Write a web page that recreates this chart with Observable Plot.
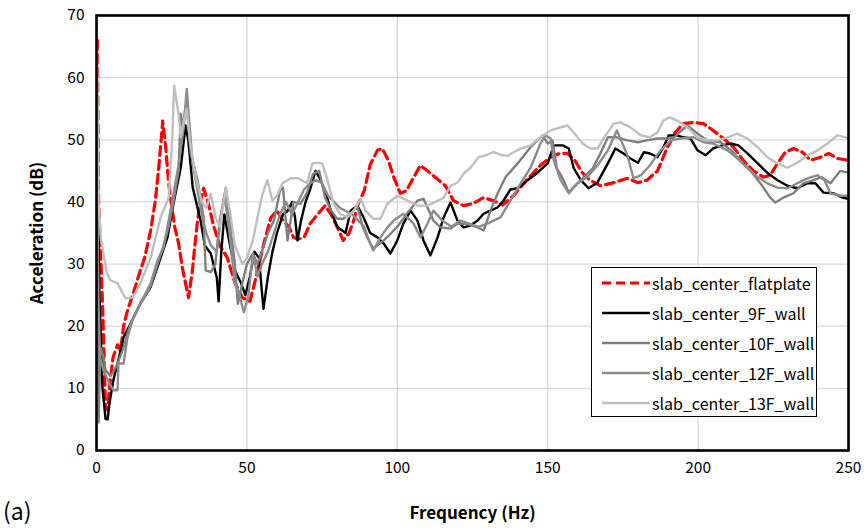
<!DOCTYPE html>
<html>
<head>
<meta charset="utf-8">
<script src="https://cdn.jsdelivr.net/npm/d3@7"></script>
<script src="https://cdn.jsdelivr.net/npm/@observablehq/plot@0.6"></script>
<style>
  html, body { margin: 0; padding: 0; background: #fff; }
  #wrap { position: relative; width: 867px; height: 529px; font-family: "Noto Sans CJK KR", "Noto Sans", sans-serif; }
  #wrap svg { font-family: "Noto Sans CJK KR", "Noto Sans", sans-serif; }
  [aria-label="x-axis label"] text, [aria-label="y-axis label"] text, [aria-label="x-axis label"], [aria-label="y-axis label"] { font-weight: bold; font-size: 17px; }
  #legend { position: absolute; left: 591px; top: 267px; width: 226px; height: 150px; border: 1.5px solid #000; background: #fff; box-sizing: border-box; padding-top: 0px; }
  .row { display: flex; align-items: center; height: 30px; font-size: 16px; color: #000; }
  .row svg { margin-left: 10px; margin-right: 2px; }
  #tag { position: absolute; left: 3px; top: 493px; font-size: 23px; font-family: "Noto Sans CJK KR", "Noto Sans", sans-serif; }
</style>
</head>
<body>
<div id="wrap"></div>
<script>
// Series names, colours (legend order)
const seriesNames = ["slab_center_flatplate", "slab_center_9F_wall", "slab_center_10F_wall", "slab_center_12F_wall", "slab_center_13F_wall"];
const seriesColors = ["#ff0000", "#000000", "#7f7f7f", "#8c8c8c", "#bfbfbf"];
const xTicks = [0, 50, 100, 150, 200, 250];
const yTicks = [0, 10, 20, 30, 40, 50, 60, 70];

// [frequency Hz, acceleration dB]
const flatplate = [[0.3,66],[0.7,40],[1.5,30],[2,23.7],[3,7],[3.7,6.5],[4.5,11],[5.5,15],[7,17],[8,16],[9,20],[10,22],[12,25],[14.6,29],[16,31],[18,35.4],[19.5,40],[20.6,45],[21.5,50],[22,53],[23,48.8],[24,43],[24.6,40.7],[26,36],[27.3,33.3],[28.5,29.5],[29.6,26.9],[30.6,24.6],[31.9,29],[32.7,33],[33.6,37],[34.5,40],[35.6,42.2],[37.2,39.7],[39,36],[41,33],[43.5,31],[46,27],[48.5,24.6],[51,24],[53,27.8],[54.5,31],[56,34],[58,37.5],[60,38.6],[62,37],[64,36],[65.5,34.3],[67,34],[69,34.3],[71,36.5],[73.5,38],[76,39.4],[78,38],[80,36],[82,33.8],[84,35],[85.5,37],[87,39.7],[89,41.8],[91,46],[93.4,48.3],[95,48.6],[97,46.7],[98.8,44],[101,41.4],[103,41.8],[105.5,44],[107.7,45.9],[110,45],[113,43.8],[116,42.6],[118.7,40.2],[122,39.4],[125,39.7],[128.7,40.7],[132,40.2],[135,39.5],[138.6,41],[143,43.5],[147.6,45.9],[151,47.2],[154,47.8],[156.6,47.8],[159,46.7],[161.5,44.7],[164,43.5],[167.5,42.6],[172,43.1],[176.5,43.8],[180,43.1],[183,43.5],[186.5,45],[189.8,48.8],[192.5,51.2],[195,52.6],[198.5,52.8],[201.8,52.6],[205,51.5],[208.5,50.2],[211.8,48.8],[215,46.7],[218.4,45],[221.7,44],[224,44.3],[226.4,46.2],[229,48],[231.8,48.6],[234.7,48],[237.4,46.7],[240.7,47.2],[243.4,47.8],[246.3,47],[250,46.7]];

const wall9F = [[0.3,44],[1,25],[2,10],[3,5.1],[3.7,5],[4.3,7.5],[5.6,11.3],[7,14],[9,18.2],[11.3,20.4],[14.6,23.7],[18,26.3],[21.3,31],[23.6,34.3],[25.6,39.7],[28,45.5],[29.6,52.3],[30.5,50],[32,42.3],[34.6,37],[36,33],[38,31.7],[40,27.8],[40.6,24],[41.5,32],[42.5,38],[44,34],[46,29],[48,27],[49.5,25],[51,28],[52.5,32],[54,31],[55.5,22.8],[57,28],[58.5,32],[60,35],[62,38],[63.5,38.5],[65,40],[66,37.5],[66.8,33.8],[68,37],[69.5,40],[71,42],[72.8,45],[74,44],[76,41.8],[78,38.5],[80,36],[82.8,35],[84.5,38.6],[86.7,39.4],[88.8,37.5],[91,35],[93.4,34.3],[95.5,33.3],[97.7,31.7],[100,33.8],[102,36.5],[104.4,38.6],[106.7,37],[108.7,33.8],[111,31.4],[113.4,34.3],[115.4,37.5],[117.7,39.9],[120,37],[122,35.9],[124.3,36.2],[126.7,37],[128.7,38.1],[131,38.6],[133.3,39.1],[135.3,40.2],[137.6,42],[140,42.2],[143.3,43.5],[146.6,44.7],[150,46.2],[152,49.1],[155,49.1],[157,48.6],[158.6,45.5],[161,43.5],[163.6,42.2],[166.5,43.1],[170,46.2],[172.5,48.6],[175.2,47.8],[177.5,47],[180,46.3],[182,48],[184,47.8],[186.5,47.2],[188.5,48.8],[190.2,50.7],[193,50.7],[195,50.4],[197.5,50.2],[199.8,48.3],[202.5,47.5],[205,48.6],[208,49.1],[210.8,49.4],[213.4,49.1],[216.4,47.8],[219.8,46.2],[223,44.7],[226.4,43.5],[229.7,42.6],[233,42.2],[236.4,43],[239,43],[241.7,41.5],[245,41.4],[248,40.7],[250,40.5]];

const wall10F = [[0.3,45],[0.7,4.5],[1.3,16.6],[2.3,15],[3,13],[4.6,12],[6,13],[7,14],[9,16.6],[11.3,20.4],[14.6,23.5],[18,26.5],[20.3,30],[22.3,33],[24,36],[25.6,40],[27.3,45],[28,54.2],[28.8,52],[29.6,55.5],[30.5,53],[31.3,47.8],[33.6,43.5],[35.6,37.5],[36.3,29],[38,28.7],[39.5,30],[41,37],[43,42.3],[44.5,36],[46,30],[47,23.6],[48.5,27],[50,30],[52,31.7],[53.5,30],[55,32],[57,35],[59,37],[61,41.8],[62,42.3],[63.5,33.8],[65.5,40],[67.8,39.7],[70,41.5],[72,44.5],[74,45],[76,40.7],[78,38.6],[80,37.3],[82,37.3],[84.5,38],[86.7,39.4],[88.5,36],[90,34.3],[92,32.5],[95.5,33.8],[98,35],[100,36],[103,38],[106.7,40.2],[108.7,40.5],[112,37],[114.4,35.9],[117.7,35.7],[120,36.5],[123,36.5],[126.7,35.9],[128.7,35.4],[131,38.6],[133.3,41.3],[136,44],[140,46.2],[144.3,48.8],[146.6,49.9],[148.3,50.7],[150,49.4],[151.6,49.9],[153,45.5],[155.3,43.5],[157,41.5],[159,42.6],[162,44],[165,45.4],[167.5,47.8],[170,50.4],[173,50.4],[176.5,49.9],[180,49.6],[183,49.9],[186.5,50.2],[189.8,50.2],[192,50.4],[194.5,51.5],[196.5,52.3],[199.8,51],[203,49.9],[207.5,49.6],[211,48.3],[214,46.7],[217.4,45],[220.7,43],[224,40.7],[225.7,39.9],[228.4,40.7],[231.7,41.4],[235,43],[238.4,43.5],[241,44],[244,43],[247.3,45],[250,44.7]];

const wall12F = [[0.3,42],[0.6,25],[1.2,15],[2.3,12.9],[4.6,10.5],[5.6,9.7],[7,9.7],[7.3,14],[9,14],[10.3,18.2],[12.3,21.4],[14.6,23.7],[18,26.9],[20.3,30.6],[22.3,32.7],[24,37],[25.6,41.3],[27.3,46],[29,52],[30,58.2],[31,52],[32,46],[33.5,42],[35,38],[36.5,35],[38,33],[40,32],[41.5,38],[42.5,41],[44,36],[46,27],[47.5,25],[49,22.2],[50.5,25],[52,31.7],[53.5,28],[55,30],[57,32],[59,35],[61,38],[63,40],[65,38],[67,40],[69,42],[71,43],[73,43.5],[75,43],[77,41],[79,40],[81,39],[83,38.5],[85,38],[87,37],[89,36],[91,33.3],[92,32.2],[94.4,34.3],[96.7,35.9],[98.8,37],[102,38.1],[105.4,36.5],[107.7,34.3],[110,36.5],[112,38.6],[115,37],[118,36],[121,37],[124,36.5],[127,36],[130,36.5],[132,37],[134.3,37.5],[137.6,40.2],[141,43],[144.3,45.5],[147.6,49.4],[149.3,50.7],[151,50.2],[152,46.7],[154.3,43.5],[157,41.4],[160,43],[163.2,44],[166.6,45.9],[170,48.3],[173,51.5],[176.5,47.5],[178.5,43.8],[181,44.3],[184,45.9],[187.5,48.3],[191,49.9],[194,50.2],[198.5,50.4],[201.8,49.6],[205,49.4],[209.8,48.3],[213,47],[216.4,45.5],[219.8,44],[223,43],[226.4,42.3],[229.7,42.2],[233,43],[236.4,43.8],[239.7,44.3],[242,43.5],[244,41.4],[247.3,41],[250,41]];

const wall13F = [[0,70],[0.3,60],[0.7,39.7],[1.5,34],[2.3,31.7],[3.5,28.5],[4.6,27.4],[7,26.9],[9.6,24.5],[12,24.6],[14.6,26.9],[18,31],[21.3,37.5],[24,40.7],[25.2,50.4],[25.8,58.7],[27.3,54.2],[28,50.4],[29,53],[30,55],[31,50],[33,44],[35,40],[36.5,39],[38,41.3],[39.6,37.5],[41,36],[43,42.3],[44.5,38],[46,33],[48.5,30],[50,31],[52,33.8],[53.5,37.5],[55.2,41.3],[56.8,43.5],[58.5,40.2],[60,41],[61.8,43],[64.5,43.8],[67,43.8],[70,43],[71.8,46.2],[73.5,46.3],[75,46.2],[76.8,43.5],[78.8,39.7],[81,38.1],[83.4,37.5],[85.5,38.6],[87.8,40.5],[89.4,38.6],[92,37.3],[94.4,37.3],[96.7,39.7],[100,41],[103.4,40.2],[106.7,39.4],[110,39.4],[112.7,40],[115.4,40.7],[117.7,42.6],[120,43.1],[122,44.5],[124.3,45.5],[127,47.2],[129.3,47.5],[132,48],[134.3,47.6],[136.6,47.4],[138.6,48],[141,48.6],[144.3,49.1],[147.6,50.4],[151,51.5],[154.3,52],[156.6,52.3],[158.6,51.2],[161.6,49.4],[164.2,48.6],[166.6,48.6],[168.5,50.2],[172,52.6],[174.2,52.8],[177.5,52],[181,50.7],[184,50.4],[186.5,51.2],[188.5,53.1],[190.5,53.6],[193,53.1],[196.5,52],[199.8,50.4],[203,49.9],[206.4,49.9],[209.8,50.4],[213,51],[216.4,50.2],[219.8,48.8],[223,47.2],[226.4,46.2],[229.7,45.5],[233,46.3],[236.4,47.5],[239.7,48.3],[243,49.4],[246.3,50.7],[249,50.4],[250,50.2]];

const seriesData = [flatplate, wall9F, wall10F, wall12F, wall13F];

const rows = [];
seriesData.forEach((arr, i) => arr.forEach(([f, v]) => rows.push({series: seriesNames[i], f, v})));

const lineMarks = seriesNames.map((name, i) => Plot.line(rows.filter(r => r.series === name), {
  x: "f", y: "v",
  stroke: seriesColors[i],
  strokeWidth: i === 0 ? 3.2 : 2.4,
  strokeDasharray: i === 0 ? "9,5" : null,
  strokeLinejoin: "round",
  clip: true
}));

const chart = Plot.plot({
  width: 867,
  height: 529,
  marginTop: 15,
  marginLeft: 96,
  marginRight: 19,
  marginBottom: 79,
  style: {fontSize: "15.5px", color: "#000", background: "#fff"},
  x: {domain: [0, 250]},
  y: {domain: [0, 70]},
  marks: [
    Plot.gridX(xTicks, {stroke: "#d9d9d9", strokeOpacity: 1, strokeWidth: 1.3}),
    Plot.gridY(yTicks, {stroke: "#d9d9d9", strokeOpacity: 1, strokeWidth: 1.3}),
    Plot.axisX({ticks: xTicks, tickSize: 0, tickPadding: 11, label: "Frequency (Hz)", labelAnchor: "center", labelArrow: "none", labelOffset: 68}),
    Plot.axisY({ticks: yTicks, tickSize: 0, tickPadding: 12, label: "Acceleration (dB)", labelAnchor: "center", labelArrow: "none", labelOffset: 66}),
    ...lineMarks,
    Plot.frame({stroke: "#000", strokeWidth: 2.6})
  ]
});

const wrap = document.getElementById("wrap");
wrap.appendChild(chart);

// legend
const legend = document.createElement("div");
legend.id = "legend";
seriesNames.forEach((name, i) => {
  const row = document.createElement("div");
  row.className = "row";
  const dash = i === 0 ? 'stroke-dasharray="9,5"' : "";
  const sw = i === 0 ? 3.2 : 2.4;
  row.innerHTML = `<svg width="48" height="10"><line x1="0" x2="48" y1="5" y2="5" stroke="${seriesColors[i]}" stroke-width="${sw}" ${dash}/></svg><span>${name}</span>`;
  legend.appendChild(row);
});
wrap.appendChild(legend);

const tag = document.createElement("div");
tag.id = "tag";
tag.textContent = "(a)";
wrap.appendChild(tag);
</script>
</body>
</html>
